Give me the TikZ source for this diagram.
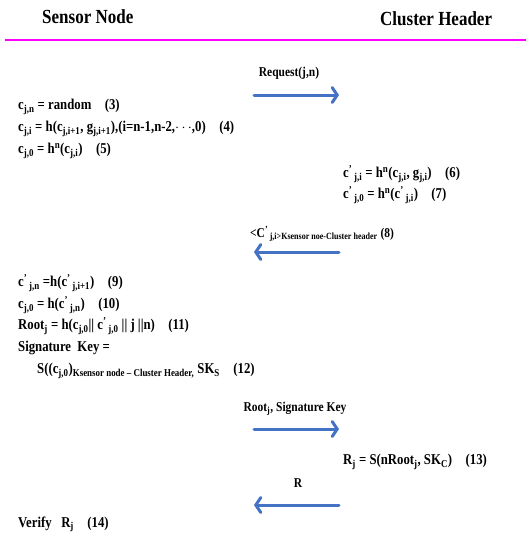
\documentclass[tikz,border=0pt]{standalone}
\usepackage{fontspec}
\setmainfont{Liberation Serif}[FakeStretch=0.85]
\usetikzlibrary{arrows.meta}
\definecolor{msgblue}{RGB}{68,114,196}
\definecolor{rulemag}{RGB}{255,0,255}
\tikzset{
  head/.style={font=\fontsize{20}{23}\selectfont\bfseries, inner sep=0pt},
  eqn/.style={font=\fontsize{15}{18}\selectfont\bfseries, inner sep=0pt, anchor=west},
  msglabel/.style={font=\fontsize{13.5}{16}\selectfont\bfseries, inner sep=0pt},
  msg/.style={draw=msgblue, line width=3pt, line cap=round,
    -{Straight Barb[length=5pt,width=15pt,line cap=round]}},
}
\newcommand{\sub}[1]{\textsubscript{#1}}
\newcommand{\sups}[1]{\textsuperscript{#1}}
\newcommand{\gap}{\hspace{0.9em}}
\begin{document}
\begin{tikzpicture}[x=1pt,y=-1pt]
\useasboundingbox (0,0) rectangle (526,539);

% column headers and rule
\node[head, anchor=west] (sn) at (42,17) {Sensor Node};
\node[head, anchor=west] (ch) at (380,19) {Cluster Header};
\coordinate (ruleL) at (5,40);
\coordinate (ruleR) at (526,40);
\draw[rulemag, line width=2pt] (ruleL) -- (ruleR);

% request
\coordinate (m1s) at (254,95);
\coordinate (m1e) at (339,95);
\draw[msg] (m1s) -- (m1e);
\node[msglabel] (m1) at (289,73) {Request(j,n)};

% sensor node: chain generation
\node[eqn] (e3) at (18,107) {c\sub{j,n} = random\gap(3)};
\node[eqn] (e4) at (18,129) {c\sub{j,i} = h(c\sub{j,i+1}, g\sub{j,i+1}),(i=n-1,n-2,$\cdots$,0)\gap(4)};
\node[eqn] (e5) at (18,151) {c\sub{j,0} = h\sups{n}(c\sub{j,i})\gap(5)};

% cluster header
\node[eqn] (e6) at (343,174) {c\sups{'}\sub{\,j,i} = h\sups{n}(c\sub{j,i}, g\sub{j,i})\gap(6)};
\node[eqn] (e7) at (343,195) {c\sups{'}\sub{\,j,0} = h\sups{n}(c\sups{'}\sub{\,j,i})\gap(7)};

% reply with encrypted chain value
\coordinate (m2s) at (339,252);
\coordinate (m2e) at (254,252);
\draw[msg] (m2s) -- (m2e);
\node[msglabel, anchor=west] (m2) at (250,234) {<C\sups{'}\sub{\,j,i>Ksensor noe-Cluster header} (8)};

% sensor node: root and signature
\node[eqn] (e9) at (18,283) {c\sups{'}\sub{\,j,n} =h(c\sups{'}\sub{\,j,i+1})\gap(9)};
\node[eqn] (e10) at (18,305) {c\sub{j,0} = h(c\sups{'}\sub{\,j,n})\gap(10)};
\node[eqn] (e11) at (18,326) {Root\sub{j} = h(c\sub{j,0}|| c\sups{'}\sub{\,j,0} || j ||n)\gap(11)};
\node[eqn] (sk) at (18,348) {Signature\ \ Key =};
\node[eqn] (e12) at (37,371) {S((c\sub{j,0})\sub{Ksensor node – Cluster Header,} SK\sub{S}\gap(12)};

% root and signature key
\coordinate (m3s) at (254,429);
\coordinate (m3e) at (339,429);
\draw[msg] (m3s) -- (m3e);
\node[msglabel] (m3) at (295,409) {Root\sub{j}, Signature Key};

% cluster header response
\node[eqn] (e13) at (343,462) {R\sub{j} = S(nRoot\sub{j}, SK\sub{C})\gap(13)};

\coordinate (m4s) at (339,505);
\coordinate (m4e) at (254,505);
\draw[msg] (m4s) -- (m4e);
\node[msglabel] (m4) at (298,483) {R};

\node[eqn] (e14) at (18,524) {Verify\ \ \ R\sub{j}\gap(14)};
\end{tikzpicture}
\end{document}
